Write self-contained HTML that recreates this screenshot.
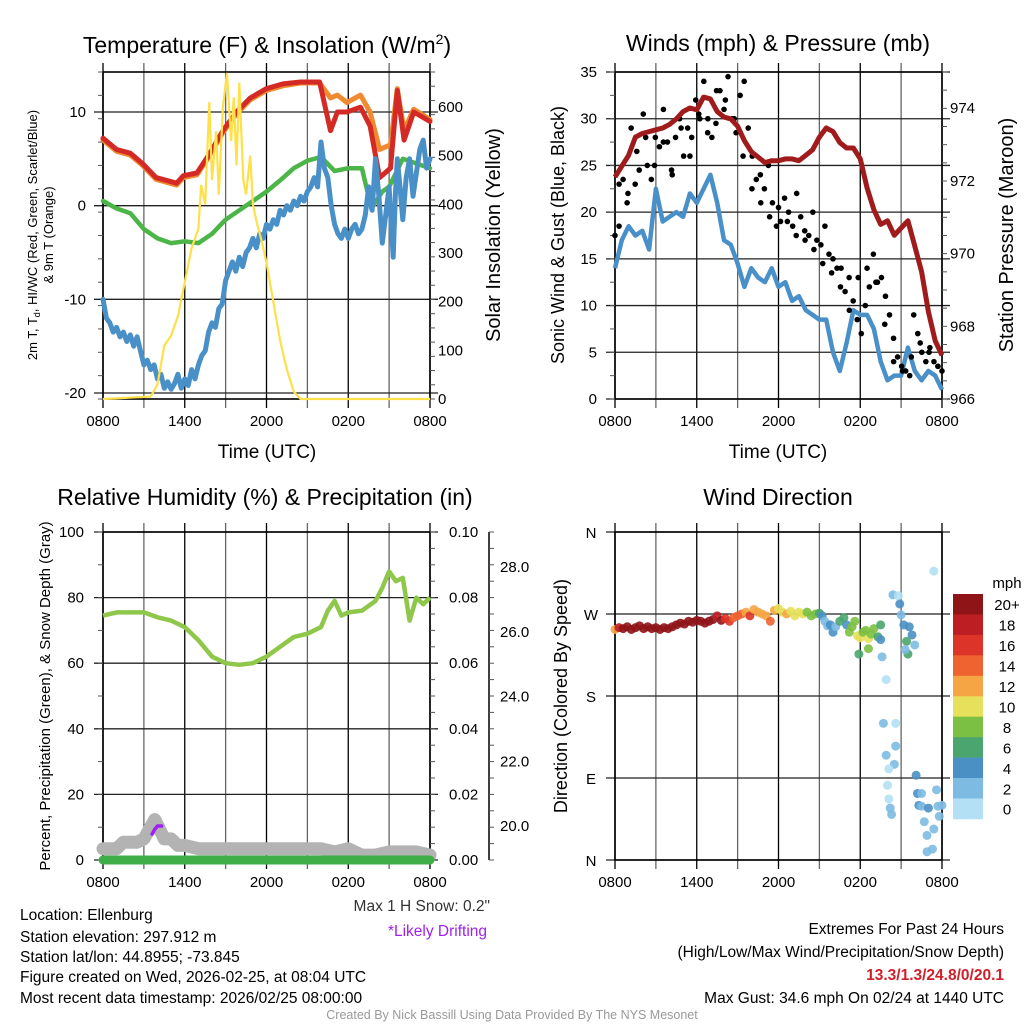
<!DOCTYPE html>
<html><head><meta charset="utf-8"><style>
html,body{margin:0;padding:0;background:#fff}
svg{display:block;font-family:"Liberation Sans",Arial,sans-serif}
</style></head><body>
<svg id="c" width="1024" height="1024" viewBox="0 0 1024 1024" xmlns="http://www.w3.org/2000/svg">
<g font-size="23" text-anchor="middle" fill="#000">
<text x="267" y="53">Temperature (F) &amp; Insolation (W/m<tspan font-size="14" dy="-9">2</tspan><tspan dy="9">)</tspan></text>
<text x="778" y="51">Winds (mph) &amp; Pressure (mb)</text>
<text x="265" y="505">Relative Humidity (%) &amp; Precipitation (in)</text>
<text x="778" y="505">Wind Direction</text>
</g>
<g id="layer"></g>
<g font-size="15.5" fill="#000">
<text x="20" y="920">Location: Ellenburg</text>
<text x="20" y="942">Station elevation: 297.912 m</text>
<text x="20" y="962">Station lat/lon: 44.8955; -73.845</text>
<text x="20" y="982">Figure created on Wed, 2026-02-25, at 08:04 UTC</text>
<text x="20" y="1003">Most recent data timestamp: 2026/02/25 08:00:00</text>
<text x="490" y="911" text-anchor="end" fill="#333">Max 1 H Snow: 0.2"</text>
<text x="487" y="936" text-anchor="end" fill="#a020f0">*Likely Drifting</text>
<text x="1004" y="934" text-anchor="end">Extremes For Past 24 Hours</text>
<text x="1004" y="957" text-anchor="end">(High/Low/Max Wind/Precipitation/Snow Depth)</text>
<text x="1004" y="980" text-anchor="end" fill="#d0202a" font-weight="bold">13.3/1.3/24.8/0/20.1</text>
<text x="1004" y="1003" text-anchor="end">Max Gust: 34.6 mph On 02/24 at 1440 UTC</text>
<text x="512" y="1019" text-anchor="middle" fill="#999" font-size="12.5">Created By Nick Bassill Using Data Provided By The NYS Mesonet</text>
</g>
</svg>
<script>
// ---- data (hours since 0800 UTC) ----
const timeTicks=["0800","1400","2000","0200","0800"];
const tT=[0,1,2,2.9,3.9,4.9,5.4,5.9,6.9,7.8,8.8,9.8,10.8,12,13.2,14.5,15.9,16.7,17.2,17.9,18.9,19.6,20.3,21.1,21.6,22.1,22.8,24];
const tempRed=[7.2,6,5.6,4.5,3,2.6,2.4,3.2,3.5,5.5,8,10,11.5,12.5,13,13.2,13.2,8,10,10,10.5,8.5,3,4,12.3,7,10,9];
const tempOrange=[7,5.8,5.4,4.3,2.8,2.4,2.2,3,3.3,5.3,7.8,9.8,11.3,12.3,12.8,13.1,13.1,11.5,11.8,11,11.8,10,6,6.5,12.5,8,10.3,9.2];
const tD=[0,1,2,3,4,5,6,7,8,9,10,11,12,13,14,15,16,17,18,19,19.7,20.5,21,22,23,24];
const dewGreen=[0.5,-0.3,-0.8,-2.5,-3.5,-4,-3.8,-4,-3,-1.5,-0.5,0.5,1.5,2.7,4,4.8,5.2,3.7,4,4,-0.3,1.5,2,5,4.5,4];
const tW=[0,0.25,0.5,0.75,1,1.25,1.5,1.75,2,2.25,2.5,2.75,3,3.25,3.5,3.75,4,4.25,4.5,4.75,5,5.25,5.5,5.75,6,6.25,6.5,6.75,7,7.25,7.5,7.75,8,8.25,8.5,8.75,9,9.25,9.5,9.75,10,10.25,10.5,10.75,11,11.25,11.5,11.75,12,12.25,12.5,12.75,13,13.25,13.5,13.75,14,14.25,14.5,14.75,15,15.25,15.5,15.75,16,16.25,16.5,16.75,17,17.25,17.5,17.75,18,18.25,18.5,18.75,19,19.25,19.5,19.75,20,20.25,20.5,20.75,21,21.15,21.3,21.45,21.6,21.8,22,22.25,22.5,22.75,23,23.25,23.5,23.75,24];
const windChill=[-10,-12,-12.5,-13.5,-13,-14,-13.5,-14.5,-13.8,-15,-14,-15.5,-17,-16.5,-17.5,-17,-18.5,-18,-19.5,-18.8,-19.6,-19,-18,-19.5,-18.5,-19.2,-17.5,-18.5,-17,-16,-15.5,-13.5,-12.5,-13,-11,-10.5,-8,-7,-6,-7,-5.5,-6.5,-5,-4.5,-3.5,-4.5,-3,-3.5,-2,-2.5,-1.5,-2,-0.5,-1,0,-0.5,0.5,0,1,0.5,1.5,2,3,2,6.8,4,3,0,-2,-3,-3.5,-2.5,-3.5,-2.5,-2,-3,-2.5,-1,2,-0.5,5,1,-4,-1,2,-2,-5.5,1,5,2,-1.5,3,5,1,3.5,6,7,4,5];
const tS=[0,3.5,4,4.5,5,5.5,6,6.5,7,7.2,7.5,7.8,8,8.3,8.5,8.8,9.1,9.4,9.6,9.8,10,10.3,10.5,10.8,11,11.3,11.6,12,12.5,13,13.5,14,14.5,24];
const solar=[0,5,30,110,130,170,240,310,350,440,400,610,450,550,420,600,670,530,620,480,650,450,420,500,400,360,330,280,200,120,60,15,0,0];
const tH=[0,0.5,1,1.5,2,2.5,3,3.5,4,4.5,5,5.5,6,6.5,7,7.5,8,8.5,9,9.5,10,10.5,11,11.5,12,12.5,13,13.5,14,14.5,15,15.5,16,16.5,17,17.5,18,18.5,19,19.5,20,20.5,21,21.5,22,22.5,23,23.5,24];
const windSpeed=[14,17,18.5,17.5,18,16,22.5,19,19.5,20,19.5,22,21,22.5,24,21,17,16.5,14.5,12,14,13,12.5,14,12,12.5,10.5,11,9.5,9,8.5,8.5,5,3,6,9.5,9,9,7.5,4,2,2.5,2.5,5.5,3,2,3,2.5,1];
const pressure=[972.1,972.4,972.7,973.2,973.3,973.35,973.4,973.45,973.55,973.7,973.9,974,973.95,974.3,974.25,973.9,973.75,973.7,973.5,973.1,972.8,972.65,972.5,972.55,972.55,972.6,972.6,972.55,972.7,972.85,973.2,973.45,973.35,973.05,972.9,972.9,972.6,971.8,971.2,970.8,970.9,970.5,970.7,970.9,970.2,969.5,968.4,967.6,967.2];
const gust=[17.5,18.5,23.5,21,29,23,24.5,30.5,25,23.5,28,27,31,27.5,24.5,28,30,26,29,28,32,30,34,30,28,29.5,33,31,34.5,30,28.5,32.5,34,29,26,23.5,24,22.5,25,21,18.5,19,21.5,20,18.5,22,19.5,18,17.5,20,17,16.5,18.5,15.5,15,14,14,11.5,13,10.5,8.5,7,10,12,15.5,12.5,13,11,9,6.5,4.5,3.5,3,2.5,9,7,5,4,5.5,4,3.5,3];
const gust2=[23,22,26.5,28,25,27.5,24,29,26,30.5,28.5,33,32,30,26,22.5,21,19.5,20.5,19,17.5,17,16,14.5,13.5,12,9.5,13,14,12.5,8,4,3,4.5,6,5,3.5];
const tR=[0,1,2,3,4,5,6,7,8,9,10,11,12,13,14,15,16,16.5,17,17.5,18,19,20,20.5,21,21.5,22,22.5,23,23.5,24];
const rh=[74.5,75.5,75.5,75.5,74,73,71,67,62,60,59.5,60,62,65,68,69,71,76,79,74.5,75.5,76,79,83,88,85,86,73,80,78,80];
const tSn=[0,1,1.5,2.5,3,3.8,4.5,5,5.5,6,7,16,17,18,19,20,21,22,23,24];
const snowDepth=[19.3,19.3,19.5,19.5,19.6,20.2,19.6,19.6,19.4,19.4,19.3,19.3,19.2,19.3,19.1,19.1,19.2,19.2,19.2,19.1];
const tDrift=[3.6,3.8,4,4.3];
const drift=[19.75,19.9,20.0,20.0];
const precip=[0,0];
const tDir=[
0,0.3,0.6,0.9,1.2,1.5,1.8,2.1,2.4,2.7,3,3.3,3.6,3.9,4.2,4.5,4.8,5.1,5.4,5.7,6,6.3,6.6,6.9,7.2,7.5,7.8,
8.1,8.4,8.7,9,9.3,9.6,9.9,10.2,10.5,10.8,11.1,11.4,11.7,12,12.3,12.6,12.9,13.2,13.5,13.8,14.1,14.4,14.7,15,
15.2,15.4,15.6,15.8,16,16.2,16.5,16.8,17,17.2,17.4,17.6,17.8,18,18.2,18.4,18.6,18.8,19,19.3,19.5,
19.5,19.6,19.9,19.7,20.6,20.6,19.9,20.5,20.1,20,20.1,20.2,20.3,20.4,20.8,20.9,21,21.2,21.6,21.8,21.4,21.5,21.3,22,
22.1,22.2,22.5,22.3,22.5,23,22.7,22.9,23.4,22.9,23.3,23.6,23.7,24,23.8,23.4,17.9,18.6];
const dirDeg=[
253,255,254,256,253,255,257,254,256,254,255,253,255,254,256,258,260,259,262,261,263,262,260,262,264,268,263,
265,262,266,268,270,272,268,275,272,270,268,262,274,276,272,270,273,268,272,270,272,268,270,271,
268,262,257,258,250,256,262,266,258,250,256,262,246,244,250,252,243,248,254,245,258,
242,223,198,150,150,125,115,105,100,82,67,57,50,291,290,281,269,258,256,247,240,226,231,236,
93,73,73,60,59,57,42,27,34,9,12,77,59,60,48,317,226,232];
const dirSpd=[
13,18,20,20,20,20,20,20,20,20,20,20,20,20,20,20,20,20,20,20,20,20,20,20,20,18,20,
17,17,15,15,14,13,16,12,13,12,13,15,12,11,11,12,10,11,10,10,9,9,8,7,
4,3,2,5,4,2,6,6,5,9,9,8,10,10,8,8,10,8,9,7,7,
4,3,0,2,0,2,2,2,0,0,0,2,2,2,0,4,2,4,4,4,6,6,2,2,
4,4,2,4,2,4,2,2,2,2,2,2,2,2,2,0,6,8];
const speedBins=["20+","18","16","14","12","10","8","6","4","2","0"];
const speedColors=["#8e1418","#bd1e24","#dc3428","#ef6330","#f6a545","#e6e05a","#7bc043","#4aa56e","#4a90c4","#7dbbe3","#b3e0f5"];
</script>
<script>
const NS="http://www.w3.org/2000/svg";
const layer=document.getElementById('layer');
function mk(tag,attrs,parent){const e=document.createElementNS(NS,tag);for(const k in attrs)e.setAttribute(k,attrs[k]);(parent||layer).appendChild(e);return e;}
function lin(d0,d1,r0,r1){return v=>r0+(v-d0)*(r1-r0)/(d1-d0);}
function txt(s,x,y,size,anchor,parent,rot,fill){const t=mk('text',{x:x,y:y,'font-size':size,'text-anchor':anchor||'middle',fill:fill||'#000'},parent);if(rot)t.setAttribute('transform','rotate(-90 '+x+' '+y+')');t.textContent=s;return t;}
function pathD(xs,ys,fx,fy){let d='';const n=Math.min(xs.length,ys.length);for(let i=0;i<n;i++)d+=(i?'L':'M')+fx(xs[i]).toFixed(1)+' '+fy(ys[i]).toFixed(1);return d;}

function frame(g,x0,x1,y0,y1,leftVals,fyL,hGrid){
  for(let h=0;h<=24;h+=3){const x=lin(0,24,x0,x1)(h);const l=mk('line',{x1:x,x2:x,y1:y0-9,y2:y1+9,stroke:(h%6?'#666':'#000'),'stroke-width':1.3},g);
    
    }
  hGrid.forEach(v=>{const y=fyL(v);const l=mk('line',{x1:x0-9,x2:x1+8,y1:y,y2:y,stroke:'#222','stroke-width':1.3},g);
    
    });
  mk('rect',{x:x0,y:y0,width:x1-x0,height:y1-y0,fill:'none',stroke:'#000','stroke-width':1.6},g);
  timeTicks.forEach((s,i)=>{const t=txt(s,lin(0,4,x0,x1)(i),y1+27,15,'middle',g);
    
    });
}
function minorTicks(g,x,y0,y1,n,dir){for(let i=0;i<=n;i++){const y=y0+(y1-y0)*i/n;mk('line',{x1:x,x2:x+dir*5,y1:y,y2:y,stroke:'#555','stroke-width':1},g);}}

// ---------- Panel 1: temperature ----------
(function(){
 const g=mk('g',{});
 const x0=103,x1=430,y0=72,y1=399;
 const fx=lin(0,24,x0,x1), fy=lin(10,-20,112,393), fs=lin(0,600,399,107);
 frame(g,x0,x1,y0,y1,[],fy,[10,0,-10,-20]);
 minorTicks(g,x0,y0,y1,14,-1);minorTicks(g,x1,y0,y1,23,1);
 [10,0,-10,-20].forEach(v=>{const t=txt(String(v),86,fy(v)+5,15,'end',g);});
 [0,100,200,300,400,500,600].forEach(v=>{const t=txt(String(v),438,fs(v)+5,15,'start',g);});
 const series=[[tT,tempOrange,'#f08a30',5,'temp-9m-orange-line'],[tT,tempRed,'#d42a26',5,'temp-2m-red-line'],[tD,dewGreen,'#4cb548',4.5,'dewpoint-green-line'],[tW,windChill,'#4a90c8',5,'windchill-blue-line']];
 series.forEach(s=>{const p=mk('path',{d:pathD(s[0],s[1],fx,fy),fill:'none',stroke:s[2],'stroke-width':s[3],'stroke-linejoin':'round','stroke-linecap':'round'},g);
   
   });
 const sp=mk('path',{d:pathD(tS,solar,fx,fs),fill:'none',stroke:'#fde04a','stroke-width':2.2},g);
 
 
 let a=txt('2m T, T',37,235,13,'middle',g,true);
 a.innerHTML='2m T, T<tspan font-size="9" dy="3">d</tspan><tspan dy="-3">, HI/WC (Red, Green, Scarlet/Blue)</tspan>';
 a=txt('& 9m T (Orange)',53,235,13,'middle',g,true);
 a=txt('Solar Insolation (Yellow)',500,235,20,'middle',g,true);
 a=txt('Time (UTC)',267,458,19,'middle',g);
})();

// ---------- Panel 2: winds ----------
(function(){
 const g=mk('g',{});
 const x0=615,x1=942,y0=72,y1=399;
 const fx=lin(0,24,x0,x1), fy=lin(0,35,399,72), fp=lin(966,974,399,108);
 frame(g,x0,x1,y0,y1,[],fy,[0,5,10,15,20,25,30,35]);
 minorTicks(g,x0,y0,y1,14,-1);minorTicks(g,x1,y0,y1,18,1);
 [0,5,10,15,20,25,30,35].forEach(v=>{const t=txt(String(v),597,fy(v)+5,15,'end',g);});
 [966,968,970,972,974].forEach(v=>{const t=txt(String(v),950,fp(v)+5,15,'start',g);});
 const w=mk('path',{d:pathD(tH,windSpeed,fx,fy),fill:'none',stroke:'#4a90c8','stroke-width':4.5,'stroke-linejoin':'round'},g);
 
 
 gust.forEach((v,i)=>{const c=mk('circle',{cx:fx(i*24/(gust.length-1)),cy:fy(v),r:2.8,fill:'#000'},g);
   
   });
 gust2.forEach((v,i)=>{const c=mk('circle',{cx:fx(0.3+i*23.4/(gust2.length-1)),cy:fy(v),r:2.8,fill:'#000'},g);
   
   });
 const p=mk('path',{d:pathD(tH,pressure,fx,fp),fill:'none',stroke:'#a01c1c','stroke-width':5,'stroke-linejoin':'round'},g);
 
 
 let a=txt('Sonic Wind & Gust (Blue, Black)',564,235,18,'middle',g,true);
 a=txt('Station Pressure (Maroon)',1013,235,20,'middle',g,true);
 a=txt('Time (UTC)',778,458,19,'middle',g);
})();

// ---------- Panel 3: RH ----------
(function(){
 const g=mk('g',{});
 const x0=103,x1=430,y0=532,y1=860;
 const fx=lin(0,24,x0,x1), fy=lin(0,100,860,532), fsn=lin(20,28,826,567);
 frame(g,x0,x1,y0,y1,[],fy,[0,20,40,60,80,100]);
 minorTicks(g,x0,y0,y1,10,-1);minorTicks(g,x1,y0,y1,20,1);
 mk('line',{x1:489,x2:489,y1:y0,y2:y1,stroke:'#000','stroke-width':1.5},g);
 minorTicks(g,489,y0,y1,20,1);
 [0,20,40,60,80,100].forEach(v=>{const t=txt(String(v),84,fy(v)+5,15,'end',g);});
 [0,0.02,0.04,0.06,0.08,0.10].forEach(v=>{const t=txt(v.toFixed(2),449,fy(v*1000)+5,15,'start',g);});
 [20,22,24,26,28].forEach(v=>{const t=txt(v.toFixed(1),500,fsn(v)+5,15,'start',g);});
 const s=mk('path',{d:pathD(tSn,snowDepth,fx,fsn),fill:'none',stroke:'#b3b3b3','stroke-width':13,'stroke-linejoin':'round','stroke-linecap':'round'},g);
 
 
 const pr=mk('path',{d:pathD([0,24],precip,fx,v=>fy(v*1000)),fill:'none',stroke:'#3fae49','stroke-width':9,'stroke-linecap':'round'},g);
 
 
 const dr=mk('path',{d:pathD(tDrift,drift,fx,fsn),fill:'none',stroke:'#a020f0','stroke-width':3.5,'stroke-linecap':'round'},g);
 
 
 const r=mk('path',{d:pathD(tR,rh,fx,fy),fill:'none',stroke:'#8fc74a','stroke-width':4.5,'stroke-linejoin':'round'},g);
 
 
 let a=txt('Percent, Precipitation (Green), & Snow Depth (Gray)',50,696,15,'middle',g,true);
})();

// ---------- Panel 4: direction ----------
(function(){
 const g=mk('g',{});
 const x0=615,x1=942,y0=532,y1=860;
 const fx=lin(0,24,x0,x1), fy=lin(0,360,860,532);
 frame(g,x0,x1,y0,y1,[],fy,[0,90,180,270,360]);
 [['N',0],['E',90],['S',180],['W',270],['N',360]].forEach(d=>{const t=txt(d[0],591,fy(d[1])+6,15,'middle',g);});
 function col(s){const idx=s>=20?0:10-Math.floor(s/2);return speedColors[Math.max(0,Math.min(10,idx))];}
 const n=Math.min(tDir.length,dirDeg.length,dirSpd.length);
 for(let i=0;i<n;i++){const c=mk('circle',{cx:fx(tDir[i]),cy:fy(dirDeg[i]),r:4.5,fill:col(dirSpd[i]),'fill-opacity':0.9},g);
   
   }
 const bh=20.45;
 speedBins.forEach((b,i)=>{const r=mk('rect',{x:953,y:594+i*bh,width:30,height:bh+0.3,fill:speedColors[i]},g);
   
   
   const t=txt(b,1007,594+i*bh+bh/2+6,15,'middle',g);
   
   });
 let a=txt('mph',1007,588,15,'middle',g);
 a=txt('Direction (Colored By Speed)',567,696,18,'middle',g,true);
})();
</script>
</body></html>
